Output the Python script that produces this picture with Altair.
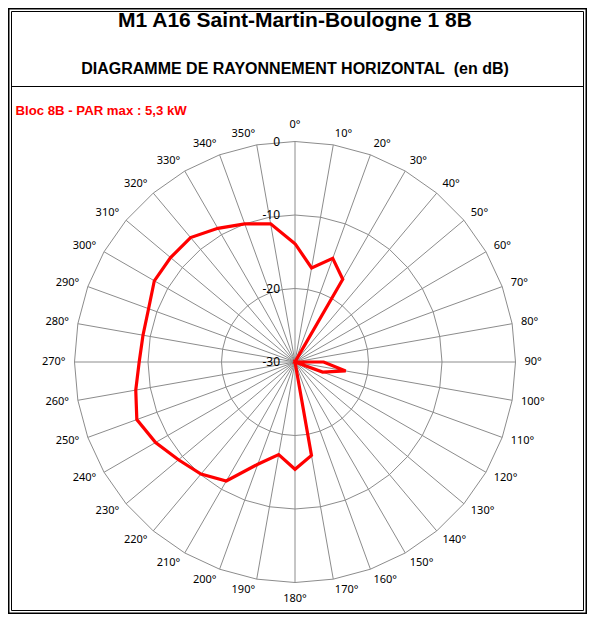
import altair as alt
import pandas as pd

# ---------------- data ----------------
TITLE = "M1 A16 Saint-Martin-Boulogne 1 8B"
SUBTITLE = "DIAGRAMME DE RAYONNEMENT HORIZONTAL\u00a0 (en dB)"
NOTE = "Bloc 8B - PAR max : 5,3 kW"

angles = list(range(0, 360, 10))
gain_db = [-13.9, -17.0, -15.0, -17.0, -30, -30, -30, -30, -30, -26.1, -23.0, -26.0,
           -30, -30, -30, -30, -30, -17.1, -15.4, -17.2, -15.2, -11.3, -10.1, -9.3,
           -8.1, -7.1, -8.0, -8.8, -9.0, -8.8, -7.9, -7.9, -7.9, -9.0, -10.0, -10.9]
angle_labels = [f"{a}°" for a in angles]
ring_levels = [-30, -20, -10, 0]
ring_labels = ["-30", "-20", "-10", "0"]
DB_MIN = -30

# ---------------- layout ----------------
W, H = 579, 606
CX, CY = 287, 354
PX = 7.35  # pixels per dB
GRID = "#8c8c8c"
RED = "#ff0000"

xs = alt.Scale(domain=[-CX / PX, (W - CX) / PX], nice=False, zero=False)
ys = alt.Scale(domain=[-(H - CY) / PX, CY / PX], nice=False, zero=False)

one = alt.Data(values=[{}])

# tables
series = pd.DataFrame({"angle": angles + [360], "gain": gain_db + [gain_db[0]]})
series["seq"] = range(len(series))
rings = pd.DataFrame([(lv, a) for lv in ring_levels[1:] for a in angles + [360]],
                     columns=["level", "angle"])
spokes = pd.DataFrame({"angle": angles})
deg = pd.DataFrame({"angle": angles, "label": angle_labels})
rlab = pd.DataFrame({"level": ring_levels, "label": ring_labels})

X = lambda f: alt.X(f, type="quantitative", scale=xs, axis=None)
Y = lambda f: alt.Y(f, type="quantitative", scale=ys, axis=None)

ring_layer = alt.Chart(rings).transform_calculate(
    r=f"datum.level - {DB_MIN}",
    px="sin(datum.angle*PI/180)*datum.r",
    py="cos(datum.angle*PI/180)*datum.r",
).mark_line(color=GRID, strokeWidth=1).encode(
    x=X("px"), y=Y("py"), detail="level:N", order="angle:Q"
)

spoke_layer = alt.Chart(spokes).transform_calculate(
    x0="0", y0="0",
    px=f"sin(datum.angle*PI/180)*{-DB_MIN}",
    py=f"cos(datum.angle*PI/180)*{-DB_MIN}",
).mark_rule(color=GRID, strokeWidth=1).encode(
    x=X("x0"), y=Y("y0"), x2="px:Q", y2="py:Q"
)


def deg_text(filter_expr, align, gv):
    return alt.Chart(deg).transform_filter(filter_expr).transform_calculate(
        t="datum.angle*PI/180",
    ).transform_calculate(
        px=f"sin(datum.t)*({-DB_MIN} + 9/{PX})",
        py=f"cos(datum.t)*({-DB_MIN} + ({gv} + 4.5)/{PX})",
    ).mark_text(font="Noto Sans", fontSize=11, color="black", align=align,
                baseline="middle").encode(x=X("px"), y=Y("py"), text="label:N")


deg_left = deg_text("datum.angle > 0 && datum.angle < 180", "left", 7)
deg_right = deg_text("datum.angle > 180", "right", 7)
deg_center = deg_text("datum.angle == 0 || datum.angle == 180", "center", 12)

rlab_layer = alt.Chart(rlab).transform_calculate(
    px="0", py=f"datum.level - {DB_MIN}"
).mark_text(font="Noto Sans", fontSize=12, color="black", align="right",
            baseline="middle", dx=-15).encode(x=X("px"), y=Y("py"), text="label:N")

line_layer = alt.Chart(series).transform_calculate(
    r=f"max(datum.gain, {DB_MIN}) - {DB_MIN}",
    px="sin(datum.angle*PI/180)*datum.r",
    py="cos(datum.angle*PI/180)*datum.r",
).mark_line(color=RED, strokeWidth=3.2).encode(
    x=X("px"), y=Y("py"), order="seq:Q"
)

frame_out = alt.Chart(one).mark_rect(filled=False, stroke="black", strokeWidth=1.5).encode(
    x=alt.value(0.75), x2=alt.value(W - 0.75), y=alt.value(0.75), y2=alt.value(H - 0.75))
frame_in = alt.Chart(one).mark_rect(filled=False, stroke="black", strokeWidth=1).encode(
    x=alt.value(3.5), x2=alt.value(W - 3.5), y=alt.value(3.5), y2=alt.value(H - 3.5))
sep = alt.Chart(one).mark_rule(color="black", strokeWidth=1).encode(
    x=alt.value(3.5), x2=alt.value(W - 3.5), y=alt.value(78.5))

title = alt.Chart(one).mark_text(text=TITLE, font="Liberation Sans", fontSize=21,
                                 fontWeight="bold", align="center", baseline="alphabetic",
                                 color="black").encode(x=alt.value(CX), y=alt.value(19))
subtitle = alt.Chart(one).mark_text(text=SUBTITLE, font="Liberation Sans", fontSize=16,
                                    fontWeight="bold", align="center", baseline="alphabetic",
                                    color="black").encode(x=alt.value(CX), y=alt.value(66))
note = alt.Chart(one).mark_text(text=NOTE, font="Liberation Sans", fontSize=13.2,
                                fontWeight="bold", align="left", baseline="alphabetic",
                                color=RED).encode(x=alt.value(7.5), y=alt.value(106.5))

chart = alt.layer(
    frame_out, frame_in, sep, title, subtitle, note,
    ring_layer, spoke_layer, deg_left, deg_right, deg_center, rlab_layer, line_layer
).properties(
    width=W, height=H, padding=0, autosize=alt.AutoSizeParams(type="none")
).configure_view(stroke=None).configure(background="white")

chart.save("out.html", embed_options={"renderer": "svg", "actions": False})
